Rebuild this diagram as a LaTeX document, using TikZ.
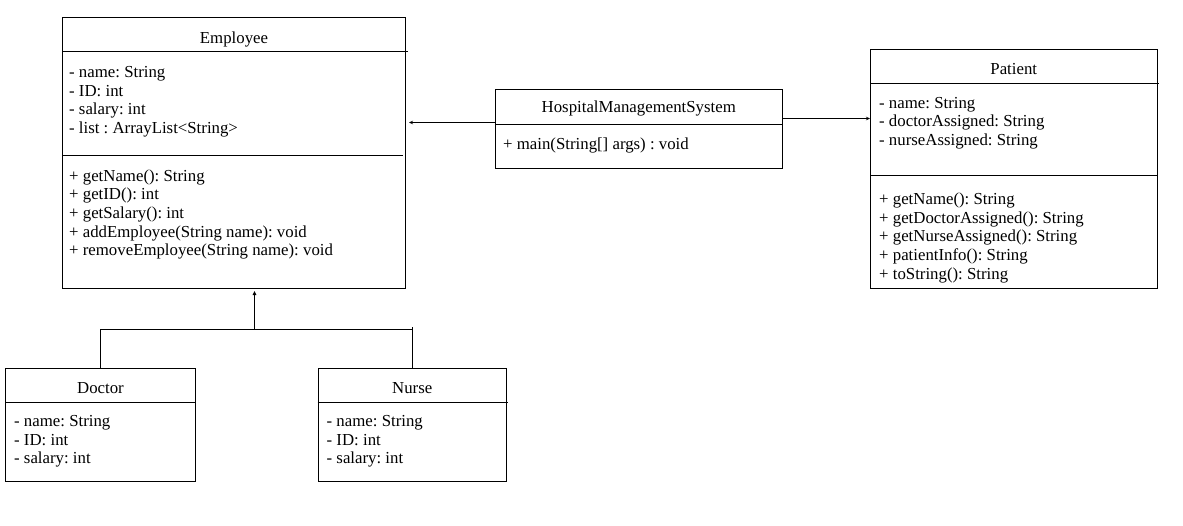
\documentclass[tikz,border=0pt]{standalone}
\usepackage{fontspec}
\setmainfont{Liberation Serif}
\usetikzlibrary{arrows.meta}
\frenchspacing
\tikzset{
	classbox/.style={draw, line width=1pt, anchor=north west, inner sep=0pt},
	member/.style={anchor=base west, inner sep=0pt, yshift=-2pt},
	ctitle/.style={anchor=base, inner sep=0pt, yshift=-2pt},
	sep/.style={line width=1pt},
	assoc/.style={-{Stealth[length=4pt,width=3.5pt]}, line width=1pt},
	inherit/.style={-{Triangle[open,length=4pt,width=3.5pt]}, line width=1pt},
}
\begin{document}
\begin{tikzpicture}[x=1pt, y=-1pt, font=\fontsize{16.8}{18.6}\selectfont]
	\useasboundingbox (0,0) rectangle (1183,525);
	%	Classes
	\node[classbox, minimum width=343pt, minimum height=271pt] (emp) at (62,17) {};
	\node[classbox, minimum width=287.5pt, minimum height=79pt] (hms) at (494.5,89) {};
	\node[classbox, minimum width=286.5pt, minimum height=239pt] (pat) at (870,49) {};
	\node[classbox, minimum width=190pt, minimum height=112.5pt] (doc) at (5,368) {};
	\node[classbox, minimum width=188.5pt, minimum height=112.5pt] (nur) at (317.5,368) {};
	%	Separators
	\draw[sep] (emp.north west) ++(0,34.5) -- ++(346,0);
	\draw[sep] (emp.north west) ++(0,138) -- ++(341,0);
	\draw[sep] (hms.north west) ++(0,35) -- ++(288.5,0);
	\draw[sep] (pat.north west) ++(0,34) -- ++(289,0);
	\draw[sep] (pat.north west) ++(0,126) -- ++(286.5,0);
	\draw[sep] (doc.north west) ++(0,34) -- ++(191,0);
	\draw[sep] (nur.north west) ++(0,34) -- ++(190,0);
	%	Titles
	\node[ctitle] (emp-t) at ([yshift=-24.5pt]emp.north) {Employee};
	\node[ctitle] (hms-t) at ([yshift=-21pt]hms.north) {HospitalManagementSystem};
	\node[ctitle] (pat-t) at ([yshift=-23.5pt]pat.north) {Patient};
	\node[ctitle] (doc-t) at ([yshift=-23pt]doc.north) {Doctor};
	\node[ctitle] (nur-t) at ([yshift=-23pt]nur.north) {Nurse};
	%	Members
	\foreach \y/\t [count=\i] in {75.5/{- name: String}, 94/{- ID: int}, 112.5/{- salary: int}, 131/{- list : ArrayList<String>},
		179/{+ getName(): String}, 197.7/{+ getID(): int}, 216.4/{+ getSalary(): int}, 235.1/{+ addEmployee(String name): void}, 253.8/{+ removeEmployee(String name): void}}
		\node[member] (emp-\i) at ([xshift=7pt]emp.west |- 0,\y) {\t};
	\node[member] (hms-1) at ([xshift=8.5pt]hms.west |- 0,147) {+ main(String[] args) : void};
	\foreach \y/\t [count=\i] in {106/{- name: String}, 124.7/{- doctorAssigned: String}, 143.4/{- nurseAssigned: String},
		202.5/{+ getName(): String}, 221.2/{+ getDoctorAssigned(): String}, 239.9/{+ getNurseAssigned(): String}, 258.6/{+ patientInfo(): String}, 277.3/{+ toString(): String}}
		\node[member] (pat-\i) at ([xshift=9pt]pat.west |- 0,\y) {\t};
	\foreach \c in {doc,nur}
		\foreach \y/\t [count=\i] in {424.5/{- name: String}, 443/{- ID: int}, 461.5/{- salary: int}}
			\node[member] (\c-\i) at ([xshift=9pt]\c.west |- 0,\y) {\t};
	%	Connectors
	\coordinate (jn) at (254.5,329.5);
	\draw[assoc] (hms.west |- 0,122.5) -- ([xshift=3pt]emp.east |- 0,122.5);
	\draw[assoc] (hms.east |- 0,118.5) -- (pat.west |- 0,118.5);
	\draw[line width=1pt] (doc.north) |- (jn -| nur.north) -- ++(0,-3);
	\draw[line width=1pt] (nur.north) -- (jn -| nur.north);
	\draw[inherit] (jn) -- ([yshift=-2pt]jn |- emp.south);
\end{tikzpicture}
\end{document}
